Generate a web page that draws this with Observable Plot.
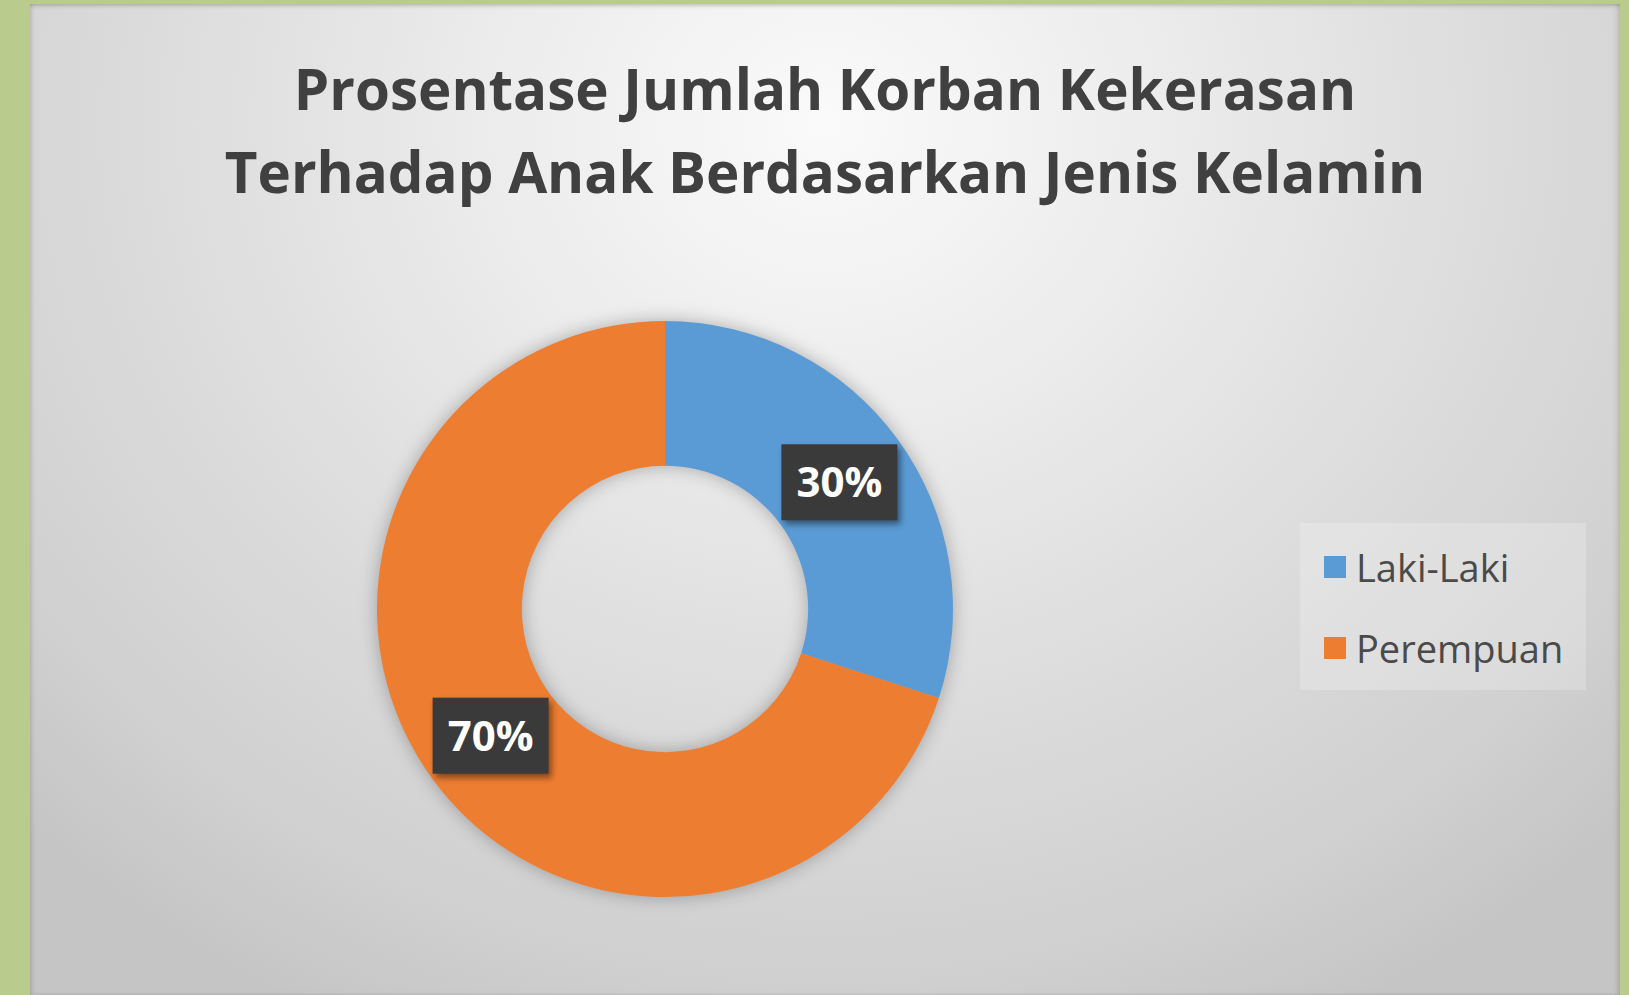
<!DOCTYPE html>
<html>
<head>
<meta charset="utf-8">
<script src="https://cdn.jsdelivr.net/npm/d3@7"></script>
<script src="https://cdn.jsdelivr.net/npm/@observablehq/plot@0.6"></script>
<style>
  html, body { margin: 0; padding: 0; }
  body { width: 1629px; height: 995px; background: #b9cc8e; position: relative; overflow: hidden; font-family: "Open Sans", sans-serif; }
  #panel { position: absolute; left: 30px; top: 4px; width: 1590px; height: 991px;
    background: radial-gradient(ellipse 1120px 1000px at 50% 12%, #fafafa 0%, #ececec 30%, #dcdcdc 60%, #d0d0d0 85%, #c5c5c5 100%);
    box-shadow: inset 3px 0 4px -1px rgba(0,0,0,0.12), inset -4px 0 5px -1px rgba(0,0,0,0.12), inset 0 4px 4px -2px rgba(0,0,0,0.15); }
  #title { position: absolute; left: 30px; width: 1590px; top: 47px; text-align: center; font-weight: 700; font-size: 56.5px; line-height: 83px; color: #404040; font-family: "Open Sans", sans-serif; }
  #chart { position: absolute; left: 0; top: 0; }
  #chart svg { background: transparent !important; overflow: visible; }
  #legend { position: absolute; left: 1300px; top: 523px; width: 286px; height: 167px; background: rgba(255,255,255,0.22); box-sizing: border-box; padding: 18px 0 0 24px; }
  #legend .lg-swatches { margin: 0 !important; }
  #legend .lg-swatch { margin: 0 0 29px 0 !important; padding: 0 !important; display: flex !important; align-items: center !important; }
  #legend .lg-swatch svg { margin-right: 10px !important; }
</style>
</head>
<body>
<div id="panel"></div>
<div id="title">Prosentase Jumlah Korban Kekerasan<br>Terhadap Anak Berdasarkan Jenis Kelamin</div>
<div id="chart"></div>
<div id="legend"></div>
<script>
const categories = ["Laki-Laki", "Perempuan"];
const values = [30, 70];
const labels = ["30%", "70%"];
const colors = ["#5b9bd5", "#ed7d31"];

const data = categories.map((c, i) => ({category: c, value: values[i], label: labels[i]}));
const innerRatio = 0.497;

function geom(dim) {
  const fw = dim.width - dim.marginLeft - dim.marginRight;
  const fh = dim.height - dim.marginTop - dim.marginBottom;
  return {cx: dim.marginLeft + fw / 2, cy: dim.marginTop + fh / 2, R: Math.min(fw, fh) / 2};
}

function arcRender(index, scales, V, dim) {
  const {cx, cy, R} = geom(dim);
  const arc = d3.arc().innerRadius(R * innerRatio).outerRadius(R);
  const g = d3.create("svg:g")
    .attr("transform", `translate(${cx},${cy})`)
    .style("filter", "drop-shadow(0px 0px 9px rgba(0,0,0,0.28))");
  for (const i of index) {
    g.append("path").attr("d", arc({startAngle: V.x1[i], endAngle: V.x2[i]})).attr("fill", V.fill[i]);
  }
  return g.node();
}

function labelRender(index, scales, V, dim) {
  const {cx, cy, R} = geom(dim);
  const rMid = R * (1 + innerRatio) / 2;
  const g = d3.create("svg:g");
  for (const i of index) {
    const a = V.x[i];
    const px = cx + rMid * Math.sin(a);
    const py = cy - rMid * Math.cos(a);
    g.append("rect")
      .attr("x", px - 58).attr("y", py - 38).attr("width", 116).attr("height", 76)
      .attr("fill", "#3a3a3a")
      .style("filter", "drop-shadow(3px 4px 3px rgba(0,0,0,0.45))");
    g.append("text")
      .attr("x", px).attr("y", py + 15)
      .attr("text-anchor", "middle")
      .attr("fill", "#ffffff")
      .attr("font-family", "Open Sans, sans-serif")
      .attr("font-weight", 700)
      .attr("font-size", 42)
      .text(V.text[i]);
  }
  return g.node();
}

const W = 1629, H = 995;
const cx = 665, cy = 609, R = 288;

const plot = Plot.plot({
  width: W,
  height: H,
  marginLeft: cx - R,
  marginRight: W - (cx + R),
  marginTop: cy - R,
  marginBottom: H - (cy + R),
  x: {domain: [0, 100], range: [0, 2 * Math.PI], axis: null},
  color: {domain: categories, range: colors},
  style: {background: "transparent"},
  marks: [
    Plot.barX(data, Plot.stackX({x: "value", fill: "category", render: arcRender})),
    Plot.text(data, Plot.stackX({x: "value", text: "label", render: labelRender}))
  ]
});
document.getElementById("chart").appendChild(plot);

const legend = Plot.legend({
  color: {domain: categories, range: colors},
  legend: "swatches",
  columns: 1,
  swatchSize: 22,
  className: "lg",
  style: {fontSize: "38px", fontFamily: "Open Sans, sans-serif", color: "#4a4a4a", background: "transparent"}
});
document.getElementById("legend").appendChild(legend);
</script>
</body>
</html>
